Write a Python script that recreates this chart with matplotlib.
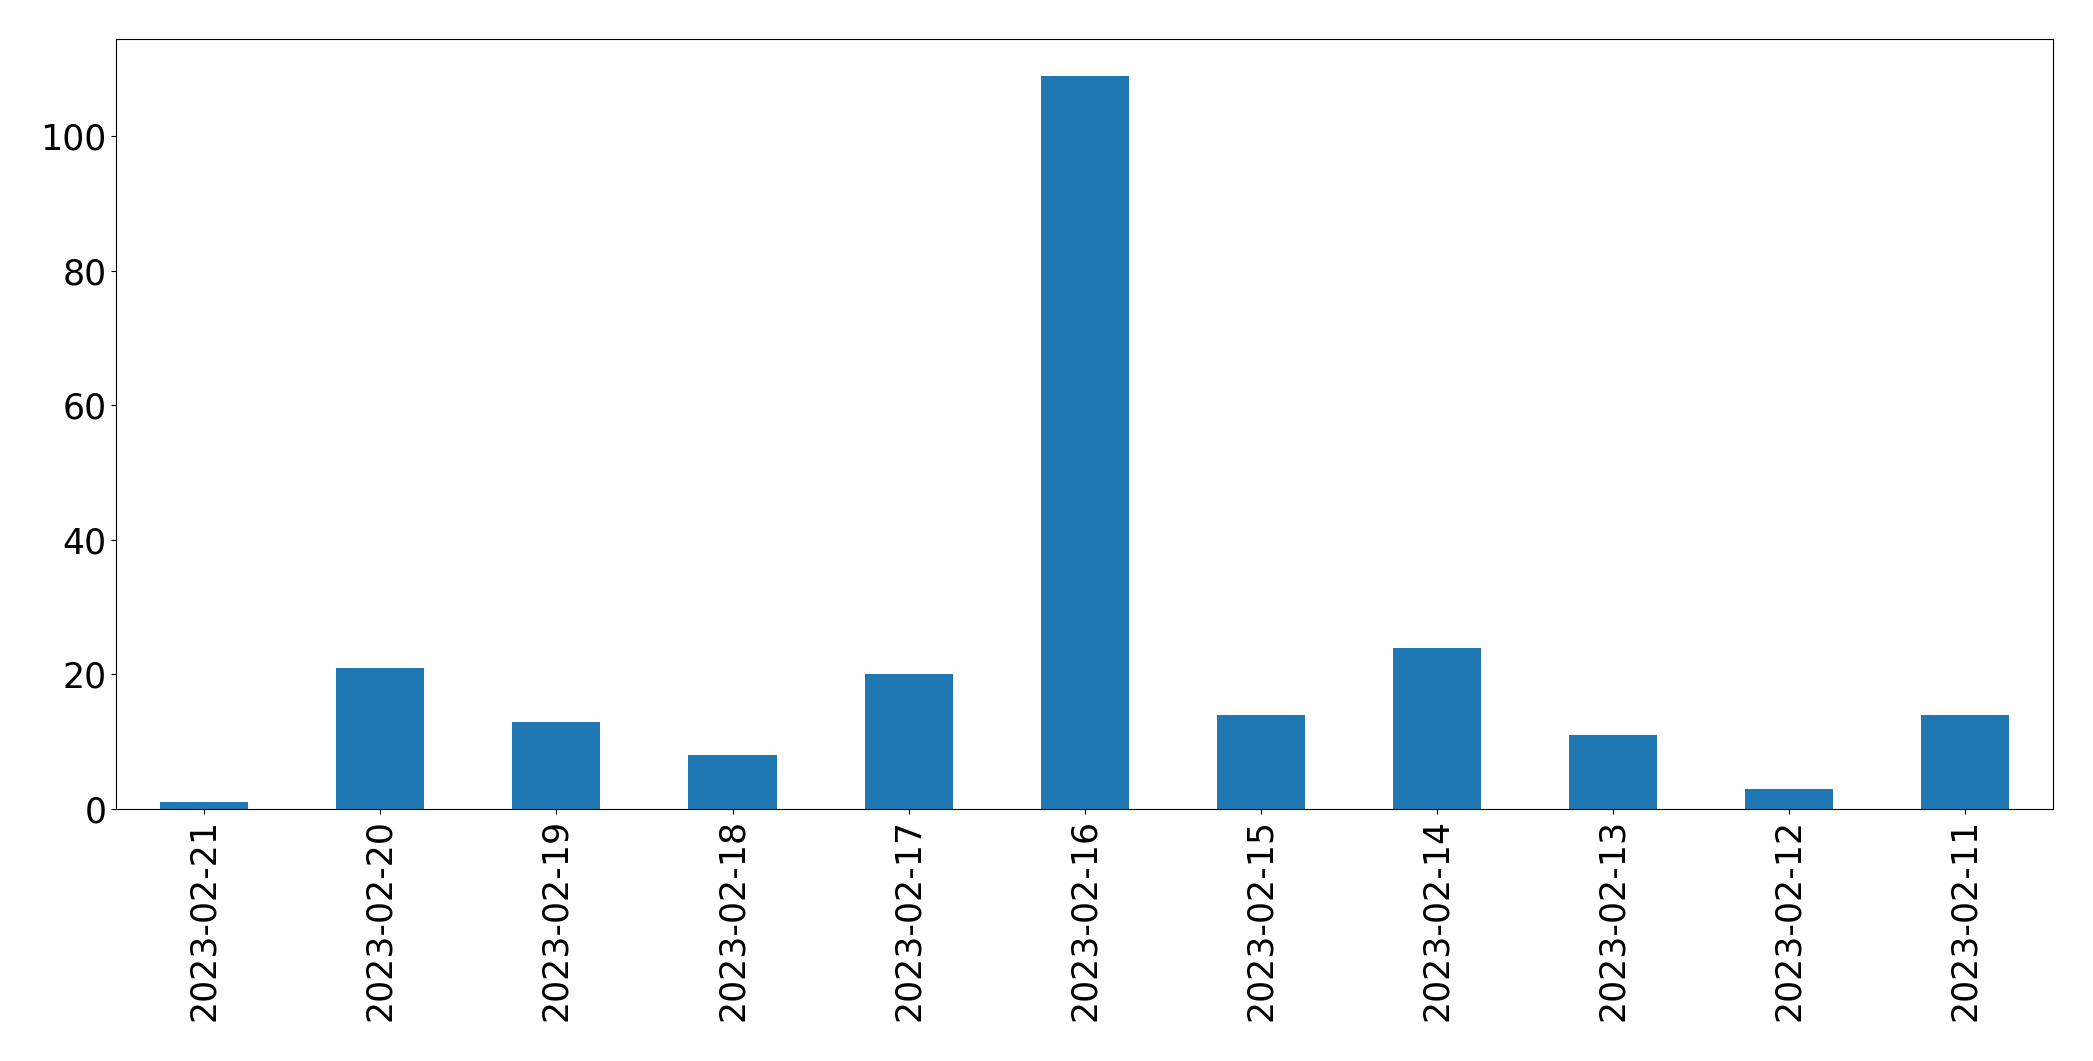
import matplotlib
matplotlib.use('Agg')
import matplotlib.pyplot as plt
import pandas as pd

DATES = ['2023-02-21', '2023-02-20', '2023-02-19', '2023-02-18', '2023-02-17', '2023-02-16',
         '2023-02-15', '2023-02-14', '2023-02-13', '2023-02-12', '2023-02-11']
COUNTS = [1, 21, 13, 8, 20, 109, 14, 24, 11, 3, 14]

s = pd.Series(COUNTS, index=DATES)

fig, ax = plt.subplots(figsize=(20.93, 10.61), dpi=100)
s.plot.bar(ax=ax, color='#1f77b4', width=0.5)
ax.tick_params(axis='both', labelsize=25)
ax.tick_params(axis='x', labelrotation=90)
fig.subplots_adjust(left=0.0555, right=0.981, top=0.963, bottom=0.2375)
fig.savefig('out.png', dpi=100)
